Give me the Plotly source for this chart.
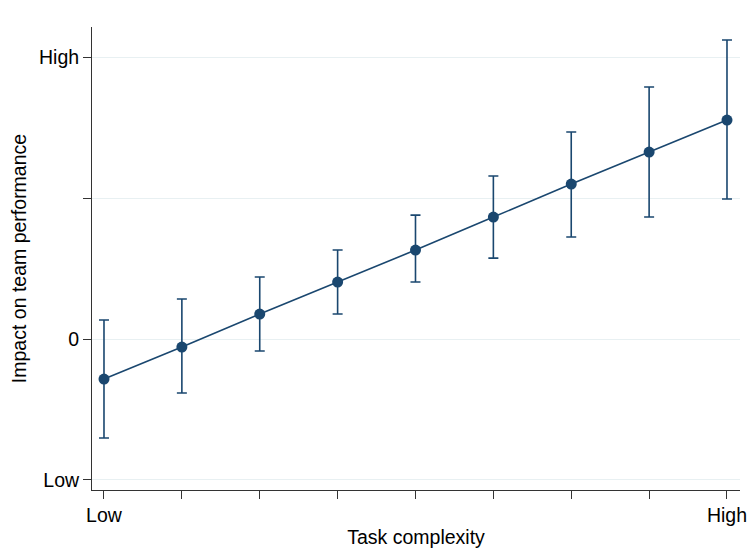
import plotly.graph_objects as go

complexity = [1, 2, 3, 4, 5, 6, 7, 8, 9]
impact = [-0.284, -0.057, 0.177, 0.404, 0.631, 0.865, 1.099, 1.326, 1.553]
ci_upper = [0.135, 0.284, 0.440, 0.631, 0.879, 1.156, 1.468, 1.787, 2.121]
ci_lower = [-0.702, -0.383, -0.085, 0.177, 0.404, 0.574, 0.723, 0.865, 0.993]

x_tickvals = [1, 2, 3, 4, 5, 6, 7, 8, 9]
x_ticktext = ["Low", "", "", "", "", "", "", "", "High"]
y_tickvals = [-1, 0, 1, 2]
y_ticktext = ["Low", "0", "", "High"]

navy = "#1a476f"
font_family = "Liberation Sans, Arial, sans-serif"
fs = 19.5

fig = go.Figure()
fig.add_trace(go.Scatter(
    x=complexity, y=impact, mode="lines+markers",
    line=dict(color=navy, width=1.6),
    marker=dict(color=navy, size=11),
    error_y=dict(type="data", symmetric=False,
                 array=[u - m for u, m in zip(ci_upper, impact)],
                 arrayminus=[m - l for m, l in zip(impact, ci_lower)],
                 color=navy, thickness=1.6, width=5),
    showlegend=False,
))

fig.update_layout(
    template="none",
    width=748, height=548,
    margin=dict(l=92, r=8, t=27, b=58, pad=0),
    paper_bgcolor="white", plot_bgcolor="white",
    font=dict(family=font_family, size=fs, color="black"),
    xaxis=dict(range=[0.846, 9.167], tickvals=x_tickvals, ticktext=x_ticktext,
               tickfont=dict(size=fs, family=font_family, color="black"),
               showline=True, linecolor="#333333", linewidth=1, mirror=False,
               ticks="outside", ticklen=8, tickwidth=1, tickcolor="#333333",
               showgrid=False, zeroline=False, automargin=False,
               title=dict(text="Task complexity", standoff=4,
                          font=dict(size=fs, family=font_family, color="black"))),
    yaxis=dict(range=[-1.071, 2.213], tickvals=y_tickvals, ticktext=y_ticktext,
               tickfont=dict(size=fs, family=font_family, color="black"),
               showline=True, linecolor="#333333", linewidth=1, mirror=False,
               ticks="outside", ticklen=8, tickwidth=1, tickcolor="#333333",
               showgrid=True, gridcolor="#e8f0f2", gridwidth=1.2, zeroline=False,
               automargin=False,
               title=dict(text="Impact on team performance", standoff=7,
                          font=dict(size=fs, family=font_family, color="black"))),
)

fig.write_html("out.html", config={"displayModeBar": False},
               post_script="document.body.style.margin='0';")
